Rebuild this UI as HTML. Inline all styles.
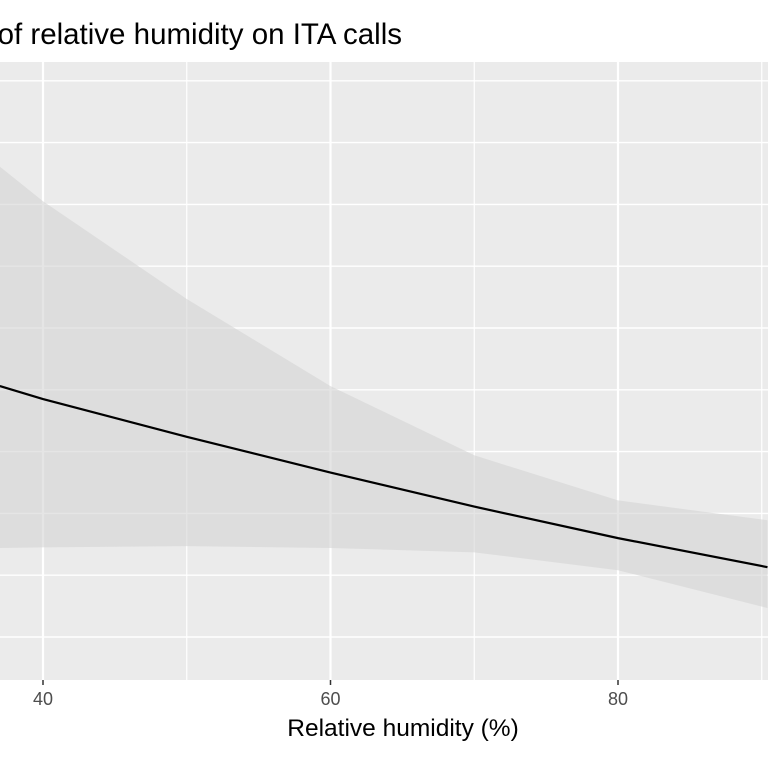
<!DOCTYPE html>
<html><head><meta charset="utf-8"><style>body{margin:0;background:#fff}svg{display:block;font-family:"Liberation Sans",Arial,sans-serif}</style></head>
<body>
<svg id="chart" width="768" height="768" viewBox="0 0 768 768">
<rect x="0" y="62" width="768" height="618" fill="#ebebeb"/>
<g id="grid"></g>
<path id="ribbon" fill="#d4d4d4" fill-opacity="0.6"/>
<path id="line" fill="none" stroke="#000" stroke-width="2.2"/>
<g id="xticks"></g>
<text x="402" y="44" font-size="29.5" text-anchor="end" fill="#000">Effect of relative humidity on ITA calls</text>
<text x="403" y="736" font-size="24.5" text-anchor="middle" fill="#000">Relative humidity (%)</text>
</svg>
<script>
const xs=[37,40,50,60,70,80,90.4];
const fit=[4.06,3.85,3.24,2.66,2.11,1.60,1.13];
const upper=[7.61,7.05,5.47,4.06,2.94,2.21,1.89];
const lower=[1.44,1.45,1.47,1.44,1.37,1.08,0.47];
const xTicks=[40,60,80];
const xMinor=[50,70,90];
const yGrid=[0,1,2,3,4,5,6,7,8,9];
const X=v=>43+(v-40)*14.375;
const Y=v=>637-v*61.8;
const NS='http://www.w3.org/2000/svg';
const grid=document.getElementById('grid');
function ln(x1,y1,x2,y2,w,c,g){const l=document.createElementNS(NS,'line');l.setAttribute('x1',x1);l.setAttribute('y1',y1);l.setAttribute('x2',x2);l.setAttribute('y2',y2);l.setAttribute('stroke',c);l.setAttribute('stroke-width',w);g.appendChild(l);return l;}
yGrid.forEach(v=>{const l=ln(0,Y(v),768,Y(v),1.4,'#fff',grid);

});
xMinor.forEach(v=>{const l=ln(X(v),62,X(v),680,1.2,'#fff',grid);

});
const xt=document.getElementById('xticks');
xTicks.forEach(v=>{const l=ln(X(v),62,X(v),680,2.2,'#fff',grid);


const t=ln(X(v),680,X(v),685,1.5,'#333',xt);


const tx=document.createElementNS(NS,'text');tx.setAttribute('x',X(v));tx.setAttribute('y',705);tx.setAttribute('font-size','18');tx.setAttribute('text-anchor','middle');tx.setAttribute('fill','#4d4d4d');tx.textContent=v;


xt.appendChild(tx);});
let d='M'+xs.map((v,i)=>X(v)+','+Y(upper[i])).join('L');
for(let i=xs.length-1;i>=0;i--)d+='L'+X(xs[i])+','+Y(lower[i]);
document.getElementById('ribbon').setAttribute('d',d+'Z');
document.getElementById('line').setAttribute('d','M'+xs.map((v,i)=>X(v)+','+Y(fit[i])).join('L'));
</script>
</body></html>
